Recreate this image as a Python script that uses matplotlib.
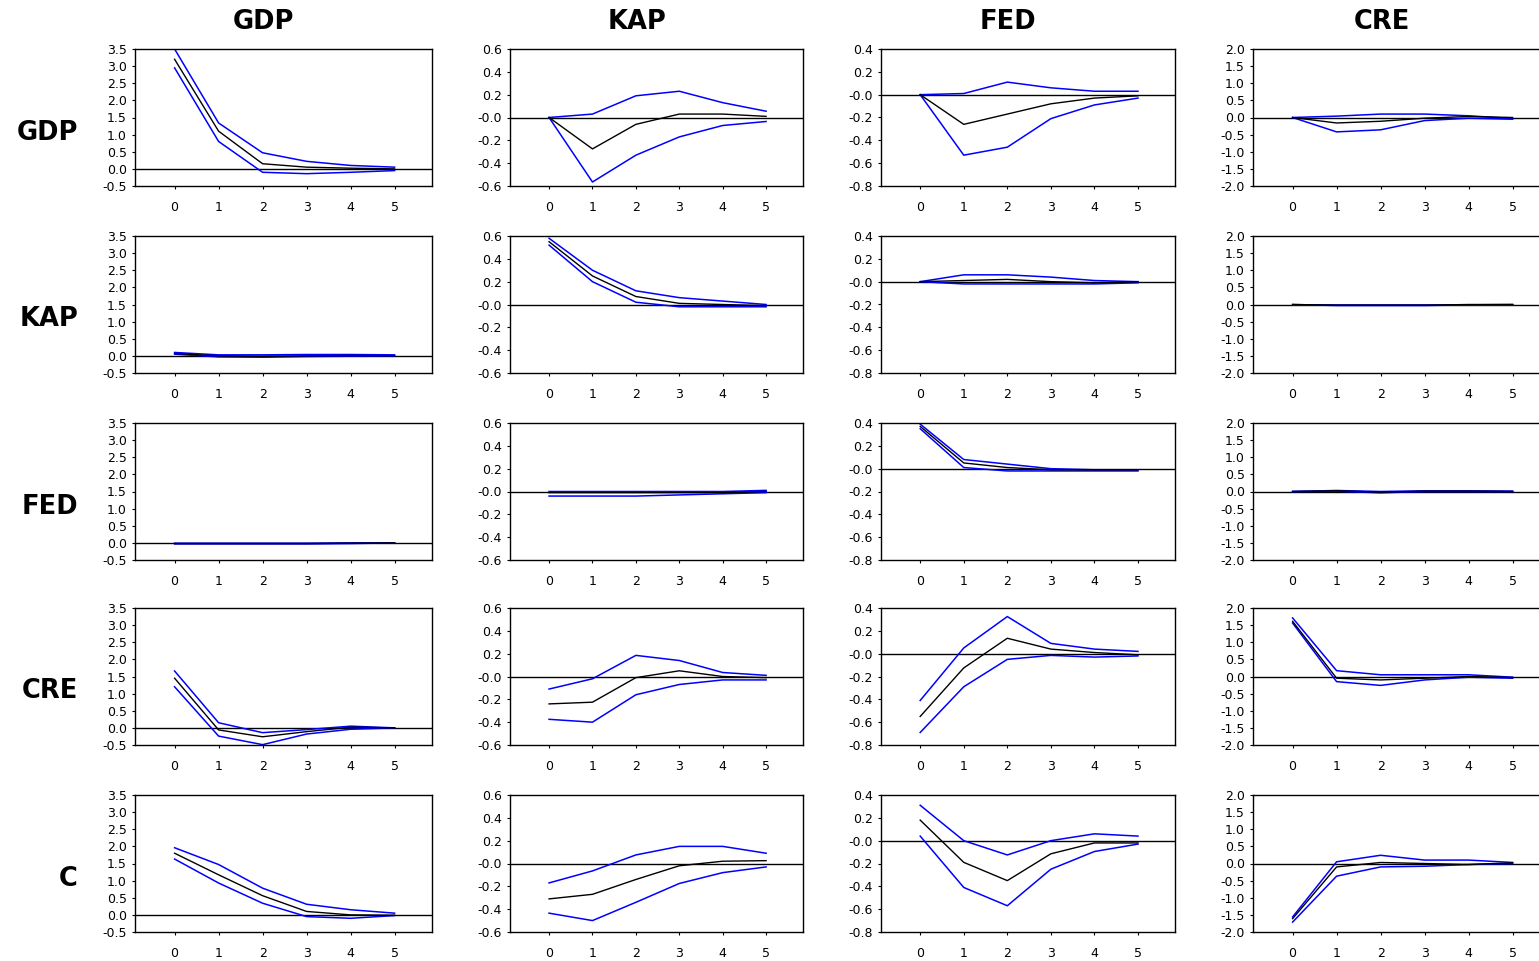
import numpy as np
import matplotlib
matplotlib.use("Agg")
import matplotlib.pyplot as plt

# impulse responses, horizon 0..5
horizon = [0, 1, 2, 3, 4, 5]
col_names = ['GDP', 'KAP', 'FED', 'CRE']
row_names = ['GDP', 'KAP', 'FED', 'CRE', 'C']

# y axis ticks per column
yticks_gdp = [-0.5, 0.0, 0.5, 1.0, 1.5, 2.0, 2.5, 3.0, 3.5]
yticks_kap = [-0.6, -0.4, -0.2, 0.0, 0.2, 0.4, 0.6]
yticks_fed = [-0.8, -0.6, -0.4, -0.2, 0.0, 0.2, 0.4]
yticks_cre = [-2.0, -1.5, -1.0, -0.5, 0.0, 0.5, 1.0, 1.5, 2.0]
ylabels_gdp = ['-0.5', '0.0', '0.5', '1.0', '1.5', '2.0', '2.5', '3.0', '3.5']
ylabels_kap = ['-0.6', '-0.4', '-0.2', '-0.0', '0.2', '0.4', '0.6']
ylabels_fed = ['-0.8', '-0.6', '-0.4', '-0.2', '-0.0', '0.2', '0.4']
ylabels_cre = ['-2.0', '-1.5', '-1.0', '-0.5', '0.0', '0.5', '1.0', '1.5', '2.0']

# each row: responses to GDP, KAP, FED, CRE columns
gdp_mid = [[3.2, 1.1, 0.15, 0.05, 0.02, 0.0],
           [0.0, -0.275, -0.06, 0.03, 0.03, 0.01],
           [0.0, -0.26, -0.17, -0.08, -0.03, -0.01],
           [0.0, -0.16, -0.11, -0.02, 0.03, 0.0]]
gdp_hi = [[3.5, 1.34, 0.47, 0.22, 0.1, 0.05],
          [0.0, 0.03, 0.19, 0.23, 0.13, 0.055],
          [0.0, 0.01, 0.11, 0.06, 0.03, 0.03],
          [0.0, 0.04, 0.1, 0.1, 0.05, -0.03]]
gdp_lo = [[2.95, 0.8, -0.1, -0.14, -0.1, -0.05],
          [0.0, -0.565, -0.33, -0.17, -0.07, -0.035],
          [0.0, -0.53, -0.46, -0.21, -0.09, -0.03],
          [0.0, -0.42, -0.36, -0.09, -0.02, -0.05]]

kap_mid = [[0.07, 0.0, -0.01, 0.0, 0.01, 0.0],
           [0.55, 0.25, 0.07, 0.01, 0.0, -0.01],
           [0.0, 0.01, 0.02, 0.0, -0.01, 0.0],
           [0.0, -0.02, -0.02, -0.02, 0.0, 0.0]]
kap_hi = [[0.1, 0.03, 0.03, 0.04, 0.04, 0.03],
          [0.58, 0.3, 0.12, 0.06, 0.03, 0.0],
          [0.0, 0.06, 0.06, 0.04, 0.01, 0.0],
          [0.0, 0.0, 0.0, 0.0, 0.0, 0.0]]
kap_lo = [[0.05, -0.03, -0.04, -0.02, -0.01, -0.01],
          [0.52, 0.2, 0.02, -0.02, -0.02, -0.02],
          [0.0, -0.02, -0.02, -0.02, -0.02, -0.01],
          [0.0, -0.03, -0.03, -0.03, -0.01, 0.0]]

fed_mid = [[-0.02, -0.02, -0.02, -0.02, -0.01, 0.0],
           [-0.01, -0.01, -0.01, -0.01, -0.01, 0.0],
           [0.37, 0.05, 0.01, -0.01, -0.01, -0.01],
           [0.0, 0.02, -0.02, 0.01, 0.01, 0.0]]
fed_hi = [[-0.01, -0.01, -0.01, -0.01, 0.0, 0.0],
          [0.0, 0.0, 0.0, 0.0, 0.0, 0.01],
          [0.39, 0.08, 0.04, 0.0, -0.01, -0.01],
          [0.0, 0.03, 0.0, 0.02, 0.02, 0.01]]
fed_lo = [[-0.03, -0.03, -0.03, -0.03, -0.02, 0.0],
          [-0.04, -0.04, -0.04, -0.03, -0.02, -0.01],
          [0.35, 0.01, -0.02, -0.02, -0.02, -0.02],
          [0.0, 0.01, -0.04, 0.0, 0.0, 0.0]]

cre_mid = [[1.45, -0.06, -0.26, -0.11, 0.02, 0.0],
           [-0.24, -0.225, -0.01, 0.05, 0.0, -0.01],
           [-0.55, -0.125, 0.135, 0.04, 0.01, -0.01],
           [1.61, -0.05, -0.1, -0.05, 0.0, -0.03]]
cre_hi = [[1.66, 0.15, -0.14, -0.05, 0.05, 0.0],
          [-0.11, -0.02, 0.185, 0.14, 0.035, 0.01],
          [-0.41, 0.05, 0.325, 0.09, 0.04, 0.02],
          [1.71, 0.17, 0.05, 0.05, 0.05, -0.02]]
cre_lo = [[1.2, -0.24, -0.49, -0.18, -0.04, 0.0],
          [-0.375, -0.4, -0.16, -0.07, -0.03, -0.03],
          [-0.69, -0.29, -0.05, -0.015, -0.03, -0.02],
          [1.56, -0.15, -0.26, -0.1, -0.02, -0.05]]

c_mid = [[1.8, 1.17, 0.56, 0.1, 0.0, -0.01],
         [-0.31, -0.27, -0.14, -0.02, 0.02, 0.025],
         [0.18, -0.19, -0.35, -0.115, -0.02, -0.02],
         [-1.61, -0.1, 0.03, 0.0, -0.03, 0.02]]
c_hi = [[1.96, 1.47, 0.78, 0.31, 0.15, 0.05],
        [-0.17, -0.065, 0.075, 0.15, 0.15, 0.09],
        [0.31, 0.0, -0.125, 0.0, 0.06, 0.04],
        [-1.56, 0.05, 0.24, 0.1, 0.1, 0.03]]
c_lo = [[1.63, 0.93, 0.34, -0.05, -0.1, -0.02],
        [-0.435, -0.5, -0.34, -0.175, -0.08, -0.03],
        [0.04, -0.41, -0.57, -0.25, -0.095, -0.03],
        [-1.71, -0.37, -0.1, -0.08, -0.03, 0.0]]

rows_mid = [gdp_mid, kap_mid, fed_mid, cre_mid, c_mid]
rows_hi = [gdp_hi, kap_hi, fed_hi, cre_hi, c_hi]
rows_lo = [gdp_lo, kap_lo, fed_lo, cre_lo, c_lo]
col_ticks = [yticks_gdp, yticks_kap, yticks_fed, yticks_cre]
col_labels = [ylabels_gdp, ylabels_kap, ylabels_fed, ylabels_cre]

W, H = 1539, 961
fig = plt.figure(figsize=(W / 100, H / 100), dpi=100)
fig.patch.set_facecolor('white')

lefts = [135, 510, 881, 1253]
widths = [297, 293, 294, 297]
tops = [49, 236, 423, 608, 795]
ah = 137

for r in range(5):
    for c in range(4):
        aw = widths[c]
        ax = fig.add_axes([lefts[c] / W, 1 - (tops[r] + ah) / H, aw / W, ah / H])
        ax.axhline(0, color='black', lw=1.0, zorder=1)
        ax.plot(horizon, rows_hi[r][c], color='#0000ff', lw=1.1, zorder=2)
        ax.plot(horizon, rows_lo[r][c], color='#0000ff', lw=1.1, zorder=2)
        ax.plot(horizon, rows_mid[r][c], color='black', lw=1.0, zorder=3)
        ax.set_xlim(-0.9, 5.85)
        ax.set_ylim(col_ticks[c][0], col_ticks[c][-1])
        ax.set_xticks(horizon)
        ax.set_yticks(col_ticks[c])
        ax.set_yticklabels(col_labels[c])
        ax.tick_params(axis='both', length=2, width=0.8, labelsize=9, colors='black')
        ax.tick_params(axis='x', pad=9)
        ax.tick_params(axis='y', pad=4)
        for s in ax.spines.values():
            s.set_linewidth(1.0)
            s.set_color('black')

for c, name in enumerate(col_names):
    xc = lefts[c] + widths[c] / 2 - 20
    fig.text(xc / W, 1 - 22 / H, name, ha='center', va='center',
             fontsize=18.5, fontweight='bold')

for r, name in enumerate(row_names):
    yc = tops[r] + ah / 2 + 15
    fig.text(78 / W, 1 - yc / H, name, ha='right', va='center',
             fontsize=18.5, fontweight='bold')

fig.savefig('out.png', dpi=100)
